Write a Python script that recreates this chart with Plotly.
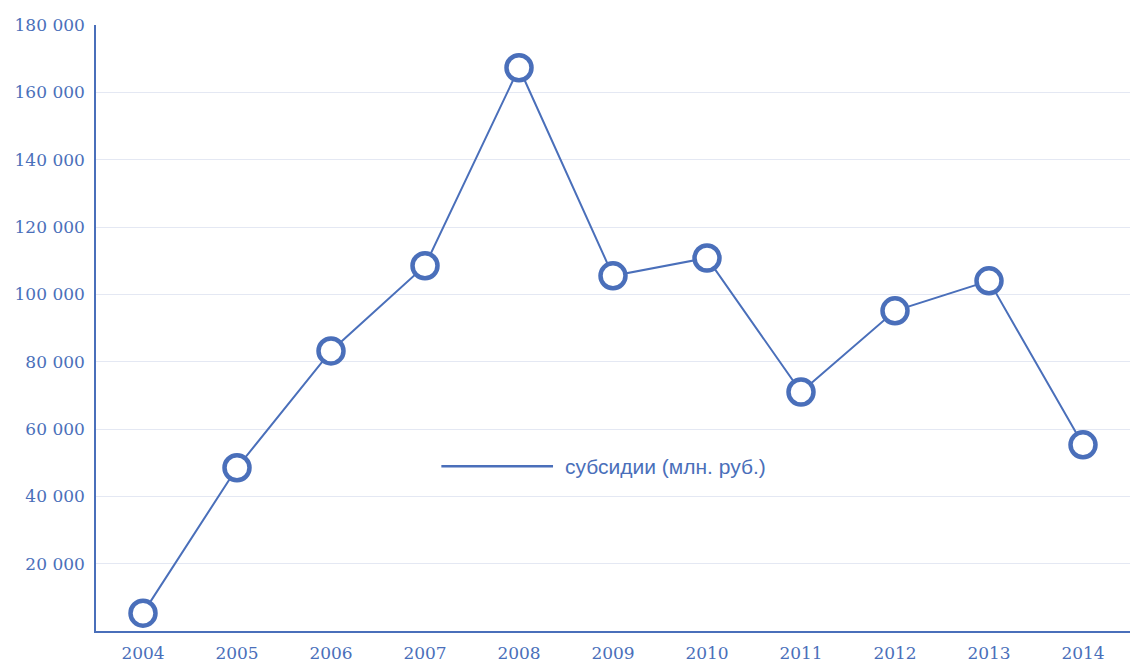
import plotly.graph_objects as go

years = ["2004", "2005", "2006", "2007", "2008", "2009", "2010", "2011", "2012", "2013", "2014"]
subsidies = [5300, 48500, 83200, 108500, 167300, 105500, 110800, 71000, 95100, 104000, 55300]
series_name = "субсидии (млн. руб.)"
y_tickvals = [20000, 40000, 60000, 80000, 100000, 120000, 140000, 160000, 180000]
y_ticktext = ["20 000", "40 000", "60 000", "80 000", "100 000", "120 000", "140 000", "160 000", "180 000"]

blue = "#4A6FBA"
tick_font = dict(family="DejaVu Serif, Liberation Serif, serif", size=17, color=blue)

fig = go.Figure()
fig.add_trace(go.Scatter(
    x=years, y=subsidies, mode="lines+markers", name=series_name,
    line=dict(color=blue, width=2),
    marker=dict(symbol="circle", size=25, color="white", line=dict(color=blue, width=4.5)),
    showlegend=False,
))

# manual legend (line sample + label)
fig.add_shape(type="line", xref="paper", yref="paper", x0=0.334, x1=0.442, y0=0.272, y1=0.272,
              line=dict(color=blue, width=2.5))
fig.add_annotation(xref="paper", yref="paper", x=0.452, y=0.272, xanchor="left", yanchor="middle",
                   text=series_name, showarrow=False,
                   font=dict(family="Liberation Sans, Arial, sans-serif", size=21, color=blue))

fig.update_layout(
    width=1130, height=664,
    margin=dict(l=96, r=0, t=25, b=33),
    paper_bgcolor="white", plot_bgcolor="white",
    xaxis=dict(
        type="category", range=[-0.5, 10.5],
        showline=True, linecolor=blue, linewidth=1.5,
        showgrid=False, ticks="", tickfont=tick_font, ticklabelstandoff=6,
    ),
    yaxis=dict(
        range=[0, 180000], tickvals=y_tickvals, ticktext=y_ticktext,
        showline=True, linecolor=blue, linewidth=1.5,
        showgrid=True, gridcolor="#E4E8F3", gridwidth=1,
        zeroline=False, ticks="", tickfont=tick_font, ticklabelstandoff=6,
    ),
)

fig.write_html("out.html", config={"displayModeBar": False},
               post_script="document.body.style.margin='0';document.body.style.overflow='hidden';")
